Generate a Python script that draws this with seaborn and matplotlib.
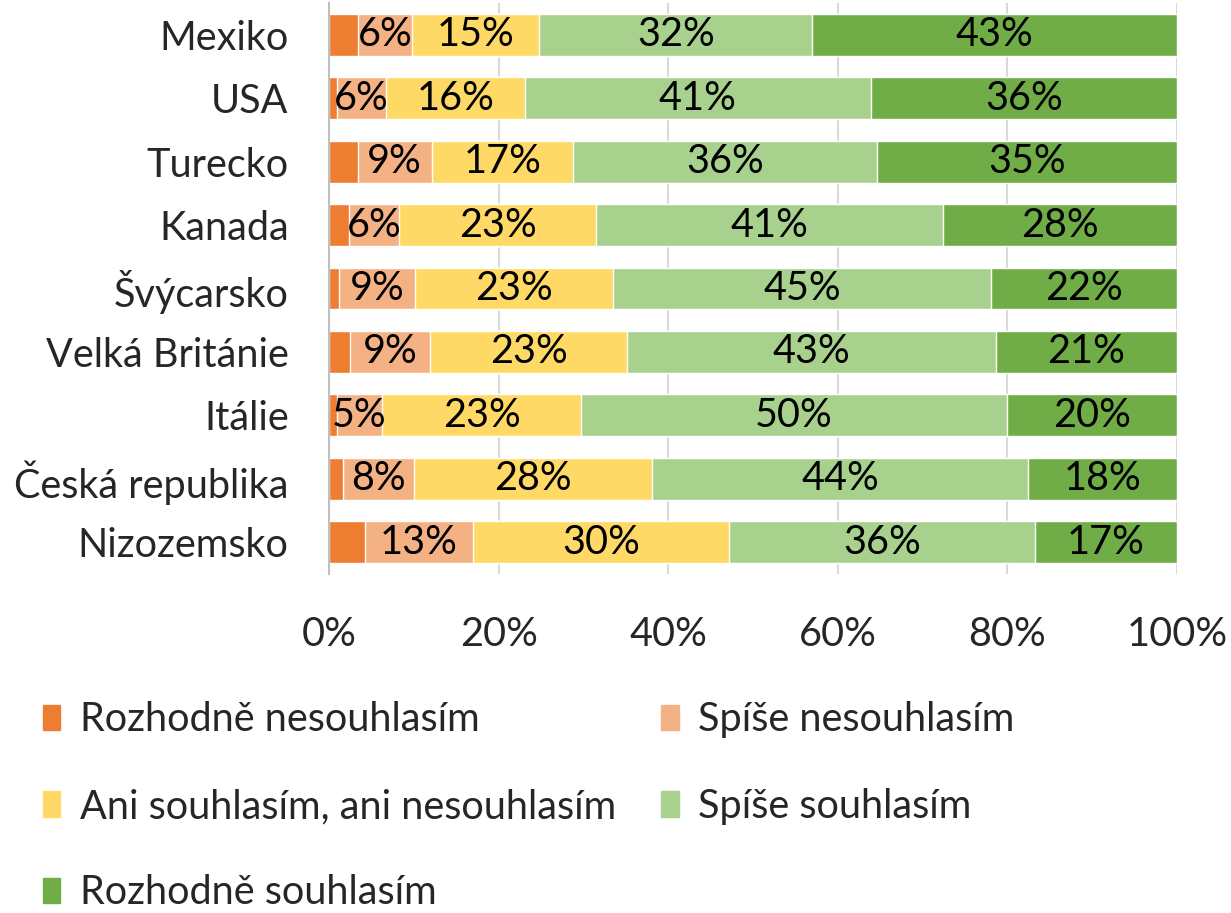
import numpy as np
import pandas as pd
import matplotlib
matplotlib.use('Agg')
import matplotlib.pyplot as plt
import matplotlib.patches as mpatches
import seaborn as sns

# ── data (share of answers, %) ───────────────────────────────
countries = ['Mexiko', 'USA', 'Turecko', 'Kanada', 'Švýcarsko',
             'Velká Británie', 'Itálie', 'Česká republika', 'Nizozemsko']
categories = ['Rozhodně nesouhlasím', 'Spíše nesouhlasím',
              'Ani souhlasím, ani nesouhlasím', 'Spíše souhlasím',
              'Rozhodně souhlasím']

strongly_disagree = [3.4, 0.9, 3.4, 2.3, 1.2, 2.5, 0.9, 1.7, 4.2]
rather_disagree   = [6.4, 5.8, 8.7, 6.0, 9.0, 9.4, 5.4, 8.3, 12.8]
neutral           = [15.0, 16.4, 16.7, 23.2, 23.3, 23.3, 23.4, 28.1, 30.2]
rather_agree      = [32.2, 40.8, 35.8, 40.9, 44.6, 43.4, 50.3, 44.3, 36.0]
strongly_agree    = [43.0, 36.1, 35.4, 27.6, 21.9, 21.4, 20.0, 17.6, 16.8]

colors = ['#ED7D31', '#F4B183', '#FFD966', '#A9D18E', '#70AD47']
show_label = [False, True, True, True, True]

df = pd.DataFrame({
    'country': countries,
    categories[0]: strongly_disagree,
    categories[1]: rather_disagree,
    categories[2]: neutral,
    categories[3]: rather_agree,
    categories[4]: strongly_agree,
})
cum = df[categories].cumsum(axis=1)

sns.set_theme(style='white')
plt.rcParams['font.family'] = ['Lato', 'DejaVu Sans']
FS = 28.5

fig = plt.figure(figsize=(12.31, 9.13), dpi=100)
ax = fig.add_axes([329 / 1231, 1 - 574 / 913, 848 / 1231, 571 / 913])

# stacked bars: draw the largest cumulative first, smaller ones on top
for cat, col in zip(reversed(categories), reversed(colors)):
    sns.barplot(x=cum[cat], y=df['country'], color=col, width=0.66,
                orient='h', saturation=1, ax=ax, zorder=2)

# data labels
for i, row in df.iterrows():
    for cat, show in zip(categories, show_label):
        if not show:
            continue
        v = row[cat]
        center = cum.loc[i, cat] - v / 2
        ax.text(center, i, f'{round(v)}%', ha='center', va='center',
                fontsize=FS, color='black', zorder=5)

ax.set_xlim(0, 100)
ax.set_xticks(np.arange(0, 101, 20))
ax.set_xticklabels([f'{t}%' for t in range(0, 101, 20)])
ax.set_xlabel('')
ax.set_ylabel('')
ax.xaxis.grid(True, color='#D9D9D9', linewidth=1.5, zorder=0)
ax.set_axisbelow(True)
for s in ['top', 'right', 'bottom']:
    ax.spines[s].set_visible(False)
ax.spines['left'].set_color('#BFBFBF')
ax.spines['left'].set_linewidth(1.5)
ax.tick_params(axis='x', length=0, pad=30, labelsize=FS)
ax.tick_params(axis='y', length=0, pad=29, labelsize=FS)

# legend in rows of two
handles = [mpatches.Patch(color=c, label=l) for c, l in zip(colors, categories)]
order = [0, 2, 4, 1, 3]
fig.legend([handles[i] for i in order], [categories[i] for i in order],
           ncol=2, loc='upper left', bbox_to_anchor=(0.022, 0.249),
           frameon=False, fontsize=FS, handlelength=0.43, handleheight=0.62,
           handletextpad=0.5, labelspacing=1.25, columnspacing=1.15,
           borderaxespad=0)

fig.savefig('out.png', dpi=100)
